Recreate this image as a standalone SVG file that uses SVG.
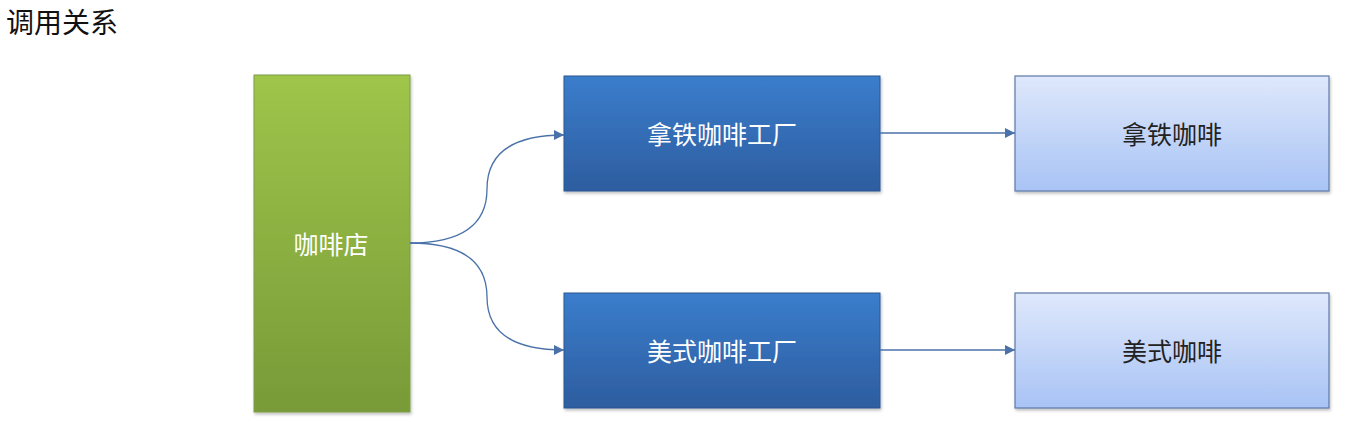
<svg xmlns="http://www.w3.org/2000/svg" width="1359" height="434" viewBox="0 0 1359 434">
<defs>
<linearGradient id="gGreen" x1="0" y1="0" x2="0" y2="1"><stop offset="0" stop-color="#9fc54a"/><stop offset="1" stop-color="#789a38"/></linearGradient>
<linearGradient id="gBlue" x1="0" y1="0" x2="0" y2="1"><stop offset="0" stop-color="#3b7dcc"/><stop offset="1" stop-color="#2d5d9f"/></linearGradient>
<linearGradient id="gLight" x1="0" y1="0" x2="0" y2="1"><stop offset="0" stop-color="#dfe8fb"/><stop offset="1" stop-color="#a8c3f5"/></linearGradient>
<filter id="sh" x="-5%" y="-5%" width="115%" height="115%"><feDropShadow dx="1" dy="2" stdDeviation="1.5" flood-color="#000" flood-opacity="0.25"/></filter>
<marker id="arr" viewBox="0 0 10 10" refX="10" refY="5" markerWidth="10" markerHeight="10" markerUnits="userSpaceOnUse" orient="auto"><path d="M0,0 L10,5 L0,10 z" fill="#4a72a8"/></marker>
</defs>
<style>
text{font-family:"Noto Sans CJK SC","Noto Sans",sans-serif;text-anchor:middle;dominant-baseline:central}
.w{fill:#fff;font-size:25px}
.d{fill:#222;font-size:25px}
.conn{fill:none;stroke:#4a72a8;stroke-width:1.3;marker-end:url(#arr)}
</style>
<rect width="1359" height="434" fill="#fff"/>
<text x="6" y="21" style="text-anchor:start;font-size:28px;fill:#111">调用关系</text>
<g id="cafe"><rect x="254" y="75" width="156" height="337" fill="url(#gGreen)" stroke="#7f9e46" stroke-width="1" filter="url(#sh)"/><text class="w" x="331" y="243">咖啡店</text></g>
<g id="latteFactory"><rect x="564" y="76" width="316" height="115" fill="url(#gBlue)" stroke="#2d5791" stroke-width="1" filter="url(#sh)"/><text class="w" x="722" y="133">拿铁咖啡工厂</text></g>
<g id="americanoFactory"><rect x="564" y="293" width="316" height="115" fill="url(#gBlue)" stroke="#2d5791" stroke-width="1" filter="url(#sh)"/><text class="w" x="722" y="350">美式咖啡工厂</text></g>
<g id="latte"><rect x="1015" y="76" width="314" height="115" fill="url(#gLight)" stroke="#5d7aa8" stroke-width="1.2" filter="url(#sh)"/><text class="d" x="1172" y="133">拿铁咖啡</text></g>
<g id="americano"><rect x="1015" y="293" width="314" height="115" fill="url(#gLight)" stroke="#5d7aa8" stroke-width="1.2" filter="url(#sh)"/><text class="d" x="1172" y="350">美式咖啡</text></g>
<g id="connectors">
<path class="conn" d="M410,243 Q487,243 487,189 Q487,135 564,135"/>
<path class="conn" d="M410,243 Q487,243 487,297 Q487,350 564,350"/>
<path class="conn" d="M880,133 L1015,133"/>
<path class="conn" d="M880,350 L1015,350"/>
</g>
</svg>
